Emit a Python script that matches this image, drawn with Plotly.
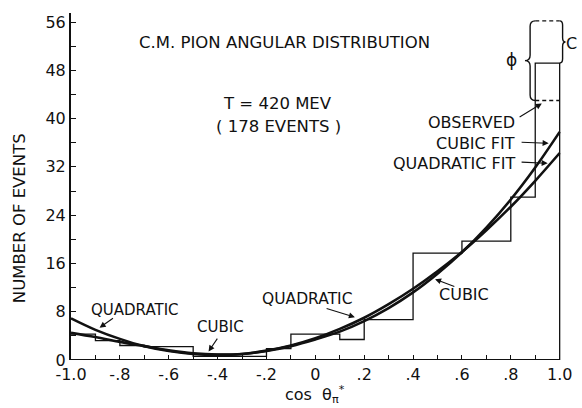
import plotly.graph_objects as go

# Observed histogram: bin edges in cos(theta*) and events per 0.1 interval
bin_edges = [-1.0, -0.9, -0.8, -0.7, -0.5, -0.2, -0.1, 0.1, 0.2, 0.4, 0.6, 0.8, 0.9, 1.0]
bin_counts = [4.3, 3.2, 2.4, 2.2, 0.6, 1.9, 4.3, 3.4, 6.7, 17.7, 19.7, 27.0, 49.2]

# Last bin: observed level (dashed) and top of the corrected levels
observed_last = 43.0
corrected_top = 56.2

# Least-squares fits sampled along cos(theta*)
fit_x = [-1.0, -0.9, -0.8, -0.7, -0.6, -0.5, -0.4, -0.3, -0.2, -0.1, 0.0,
         0.1, 0.2, 0.3, 0.4, 0.5, 0.6, 0.7, 0.8, 0.9, 1.0]
quadratic_fit = [6.9, 5.0, 3.5, 2.3, 1.5, 1.0, 0.85, 1.0, 1.55, 2.4, 3.6,
                 5.15, 7.0, 9.25, 11.8, 14.7, 17.9, 21.5, 25.4, 29.7, 34.3]
cubic_fit = [4.5, 3.8, 3.0, 2.3, 1.6, 1.1, 0.9, 1.0, 1.5, 2.3, 3.4,
             4.7, 6.45, 8.6, 11.2, 14.3, 17.85, 21.95, 26.6, 31.9, 37.8]

x_ticks = [-1.0, -0.9, -0.8, -0.7, -0.6, -0.5, -0.4, -0.3, -0.2, -0.1, 0.0,
           0.1, 0.2, 0.3, 0.4, 0.5, 0.6, 0.7, 0.8, 0.9, 1.0]
x_tick_labels = ["-1.0", "", "-.8", "", "-.6", "", "-.4", "", "-.2", "", "0",
                 "", ".2", "", ".4", "", ".6", "", ".8", "", "1.0"]
y_ticks = [0, 4, 8, 12, 16, 20, 24, 28, 32, 36, 40, 44, 48, 52, 56]
y_tick_labels = ["0", "", "8", "", "16", "", "24", "", "32", "", "40", "", "48", "", "56"]

INK = "#111111"
FONT = "DejaVu Sans"

fig = go.Figure()

# histogram outline as a step line, closed down to the axis at the right edge
hist_x = bin_edges + [bin_edges[-1]]
hist_y = bin_counts + [bin_counts[-1], 0]
fig.add_trace(go.Scatter(x=hist_x, y=hist_y, mode="lines",
                         line=dict(color=INK, width=1.3, shape="hv"),
                         hoverinfo="skip", showlegend=False))

for ys in (quadratic_fit, cubic_fit):
    fig.add_trace(go.Scatter(x=fit_x, y=ys, mode="lines",
                             line=dict(color=INK, width=2.6, shape="spline", smoothing=1.0),
                             hoverinfo="skip", showlegend=False))


def brace(x_end, x_tip, y0, y1, r=0.9):
    """SVG path of a curly brace spanning y0..y1, ends at x_end, point at x_tip."""
    xm = (x_end + x_tip) / 2
    ym = (y0 + y1) / 2
    return (f"M {x_end},{y1} Q {xm},{y1} {xm},{y1 - r} "
            f"L {xm},{ym + r} Q {xm},{ym} {x_tip},{ym} "
            f"Q {xm},{ym} {xm},{ym - r} "
            f"L {xm},{y0 + r} Q {xm},{y0} {x_end},{y0}")


last_left = bin_edges[-2]
last_right = bin_edges[-1]
shapes = [
    # x axis line
    dict(type="line", xref="x", yref="y", x0=bin_edges[0], x1=last_right, y0=0, y1=0,
         line=dict(color=INK, width=2)),
    # observed level in the last bin
    dict(type="line", xref="x", yref="y", x0=last_left, x1=last_right,
         y0=observed_last, y1=observed_last, line=dict(color=INK, width=1.3, dash="4px,3px")),
    # top of corrected level
    dict(type="line", xref="x", yref="y", x0=last_left, x1=last_right,
         y0=corrected_top, y1=corrected_top, line=dict(color=INK, width=1.3, dash="4px,3px")),
    dict(type="path", xref="x", yref="y",
         path=brace(last_left, last_left - 0.042, observed_last, corrected_top),
         line=dict(color=INK, width=1.4)),
    dict(type="path", xref="x", yref="y",
         path=brace(last_right, last_right + 0.024, bin_counts[-1], corrected_top, r=0.7),
         line=dict(color=INK, width=1.4)),
]

ann = []


def text(x, y, s, size=15.5, xanchor="center"):
    ann.append(dict(x=x, y=y, xref="x", yref="y", text=s, showarrow=False,
                    xanchor=xanchor, yanchor="middle",
                    font=dict(family=FONT, size=size, color=INK)))


def arrow(x_head, y_head, x_tail, y_tail):
    ann.append(dict(x=x_head, y=y_head, ax=x_tail, ay=y_tail, xref="x", yref="y",
                    axref="x", ayref="y", text="", showarrow=True, arrowhead=2,
                    arrowsize=1.1, arrowwidth=1.1, arrowcolor=INK, standoff=0))


text(-0.1255, 52.6, "C.M. PION ANGULAR DISTRIBUTION", size=16.5)
text(-0.154, 42.5, "T = 420 MEV", size=16.5)
text(-0.15, 38.7, "( 178 EVENTS )", size=16.5)

text(-0.737, 8.3, "QUADRATIC", size=15)
arrow(-0.883, 5.35, -0.822, 7.1)
text(-0.387, 5.4, "CUBIC", size=15)
arrow(-0.437, 1.4, -0.397, 3.8)
text(-0.032, 10.1, "QUADRATIC", size=15.5)
arrow(0.162, 7.1, 0.040, 8.6)
text(0.607, 10.9, "CUBIC", size=16)
arrow(0.49, 13.4, 0.575, 12.1)

text(0.826, 39.4, "OBSERVED", size=16, xanchor="right")
arrow(0.927, 42.5, 0.830, 40.1)
text(0.826, 35.9, "CUBIC FIT", size=16, xanchor="right")
arrow(0.955, 35.9, 0.838, 36.1)
text(0.826, 32.6, "QUADRATIC FIT", size=16, xanchor="right")
arrow(0.951, 32.6, 0.838, 32.8)

text(0.804, 49.7, "ϕ", size=17)

# label of the right-hand brace sits just past the plot edge
ann.append(dict(x=(577 - 71) / 501.4, y=(52.5) / 57.5, xref="paper", yref="paper",
                text="C", showarrow=False, xanchor="center", yanchor="middle",
                font=dict(family=FONT, size=16, color=INK)))

# axis titles
ann.append(dict(x=(19 - 71) / 501.4, y=(360 - 218.5) / 347.3, xref="paper", yref="paper",
                text="NUMBER OF EVENTS", textangle=-90, showarrow=False,
                xanchor="center", yanchor="middle",
                font=dict(family=FONT, size=16.5, color=INK)))
ann.append(dict(x=(318 - 71) / 501.4, y=(360 - 395) / 347.3, xref="paper", yref="paper",
                text="cos  θ<sub>π</sub><sup>*</sup>", showarrow=False,
                xanchor="center", yanchor="middle",
                font=dict(family=FONT, size=16, color=INK)))

fig.update_layout(
    width=582, height=408,
    margin=dict(l=71, r=10, t=13, b=48),
    paper_bgcolor="white", plot_bgcolor="white",
    shapes=shapes, annotations=ann,
    showlegend=False,
    xaxis=dict(range=[-1.0, 1.03], tickvals=x_ticks, ticktext=x_tick_labels,
               ticks="inside", ticklen=5, tickwidth=1.3, tickcolor=INK,
               ticklabelstandoff=3,
               showline=False, showgrid=False, zeroline=False,
               tickfont=dict(family=FONT, size=16, color=INK)),
    yaxis=dict(range=[0, 57.5], tickvals=y_ticks, ticktext=y_tick_labels,
               ticks="inside", ticklen=5, tickwidth=1.3, tickcolor=INK,
               showline=True, linewidth=2, linecolor=INK,
               showgrid=False, zeroline=False,
               tickfont=dict(family=FONT, size=16, color=INK)),
)

fig.write_html("out.html")
